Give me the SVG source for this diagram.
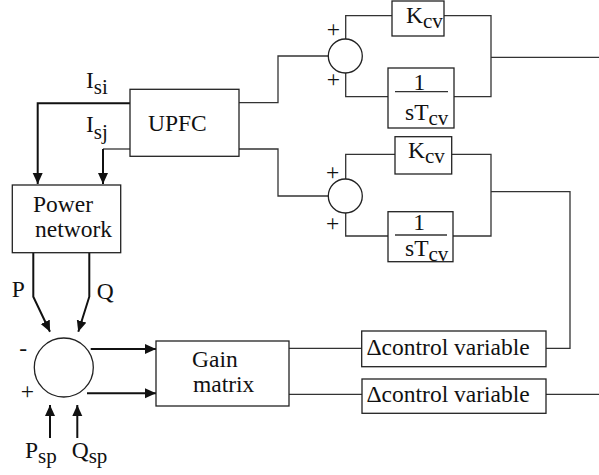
<svg xmlns="http://www.w3.org/2000/svg" width="599" height="475" viewBox="0 0 599 475">
<style>
.box{fill:#fff;stroke:#222;stroke-width:1.3}
.thin{fill:none;stroke:#333;stroke-width:1.3}
.thick{fill:none;stroke:#111;stroke-width:2}
text{font-family:'Liberation Serif','Times New Roman','DejaVu Serif',serif;font-size:23.5px;fill:#111}
.sub{font-size:21px}
</style>
<defs>
<marker id="ah" markerUnits="userSpaceOnUse" markerWidth="12" markerHeight="11" refX="11" refY="5" orient="auto">
<path d="M0,0 L11,5 L0,10 z" fill="#111"/>
</marker>
</defs>
<g id="connectors">
<polyline class="thick" points="130,103.3 37.7,103.3 37.7,184" marker-end="url(#ah)"/>
<polyline class="thin" points="130,149 103,149"/>
<polyline class="thick" points="103,149 103,184" marker-end="url(#ah)"/>
<polyline class="thin" points="239,102.7 278,102.7 278,56 328,56"/>
<polyline class="thin" points="345.7,39 345.7,15.7 392,15.7"/>
<polyline class="thin" points="345.7,73 345.7,96.7 388,96.7"/>
<polyline class="thin" points="444,15.7 491,15.7 491,96.7 454,96.7"/>
<line class="thin" x1="491" y1="57.3" x2="599" y2="57.3"/>
<polyline class="thin" points="239,149 278,149 278,196 328,196"/>
<polyline class="thin" points="345.7,179 345.7,154.3 395,154.3"/>
<polyline class="thin" points="345.7,213 345.7,236 388,236"/>
<polyline class="thin" points="451.7,154.3 491,154.3 491,236 453,236"/>
<polyline class="thin" points="491,191.7 570,191.7 570,348.3 546,348.3"/>
<polyline class="thick" points="33.3,253 33.3,296.7 50,331.7" marker-end="url(#ah)"/>
<polyline class="thick" points="89.3,253 89.3,296.7 78.3,331.7" marker-end="url(#ah)"/>
<line class="thick" x1="50" y1="438" x2="50" y2="405" marker-end="url(#ah)"/>
<line class="thick" x1="77.3" y1="438" x2="77.3" y2="405" marker-end="url(#ah)"/>
<line class="thick" x1="90.7" y1="349" x2="156" y2="349" marker-end="url(#ah)"/>
<line class="thick" x1="87" y1="393.3" x2="156" y2="393.3" marker-end="url(#ah)"/>
<line class="thin" x1="289" y1="348.3" x2="362" y2="348.3"/>
<line class="thin" x1="289" y1="394.3" x2="362" y2="394.3"/>
<line class="thin" x1="546" y1="394.3" x2="599" y2="394.3"/>
</g>
<g font-family="Liberation Serif, Times New Roman, DejaVu Serif, serif">
<g id="label-isi"><text x="86" y="88">I<tspan class="sub" dy="6">si</tspan></text></g>
<g id="label-isj"><text x="86" y="132">I<tspan class="sub" dy="7">sj</tspan></text></g>
<g id="upfc"><rect class="box" x="130" y="89.3" width="109" height="67"/><text x="148" y="130.7">UPFC</text></g>
<g id="sum1"><circle class="box" cx="345.3" cy="56" r="17"/><text x="326.7" y="37">+</text><text x="326.7" y="87">+</text></g>
<g id="kcv1"><rect class="box" x="392" y="1" width="52" height="35"/><text x="406" y="23.3">K<tspan class="sub" dy="5">cv</tspan></text></g>
<g id="int1"><rect class="box" x="388" y="68" width="66" height="60"/><text x="419.3" y="89.5" text-anchor="middle">1</text><line class="thin" x1="395" y1="91.7" x2="448" y2="91.7"/><text x="405" y="120">sT<tspan class="sub" dy="5">cv</tspan></text></g>
<g id="sum2"><circle class="box" cx="345.3" cy="196" r="17"/><text x="326" y="180">+</text><text x="326" y="231">+</text></g>
<g id="kcv2"><rect class="box" x="395" y="136.7" width="56.7" height="37.3"/><text x="408" y="158.3">K<tspan class="sub" dy="5">cv</tspan></text></g>
<g id="int2"><rect class="box" x="388" y="211.7" width="65" height="50"/><text x="419" y="230" text-anchor="middle">1</text><line class="thin" x1="395" y1="235" x2="447" y2="235"/><text x="405" y="256">sT<tspan class="sub" dy="5">cv</tspan></text></g>
<g id="power-network"><rect class="box" x="12.3" y="185" width="108.4" height="67.7"/><text x="33" y="211.7">Power</text><text x="35" y="236.7">network</text></g>
<g id="label-p"><text x="11.7" y="296.7">P</text></g>
<g id="label-q"><text x="96.7" y="299">Q</text></g>
<g id="sum3"><circle class="box" cx="63.8" cy="367.5" r="29.5"/><text x="19.3" y="356">-</text><text x="20.7" y="399">+</text></g>
<g id="label-psp"><text x="25" y="458">P<tspan class="sub" dy="5">sp</tspan></text></g>
<g id="label-qsp"><text x="71.7" y="458">Q<tspan class="sub" dy="5">sp</tspan></text></g>
<g id="gain-matrix"><rect class="box" x="156" y="341" width="133" height="65"/><text x="192" y="366.7">Gain</text><text x="193" y="391.7">matrix</text></g>
<g id="dcv1"><rect class="box" x="361.7" y="331" width="184.3" height="35.7"/><text x="366.5" y="355">Δcontrol variable</text></g>
<g id="dcv2"><rect class="box" x="362" y="379" width="184" height="34.3"/><text x="366.5" y="401.7">Δcontrol variable</text></g>
</g>
</svg>
